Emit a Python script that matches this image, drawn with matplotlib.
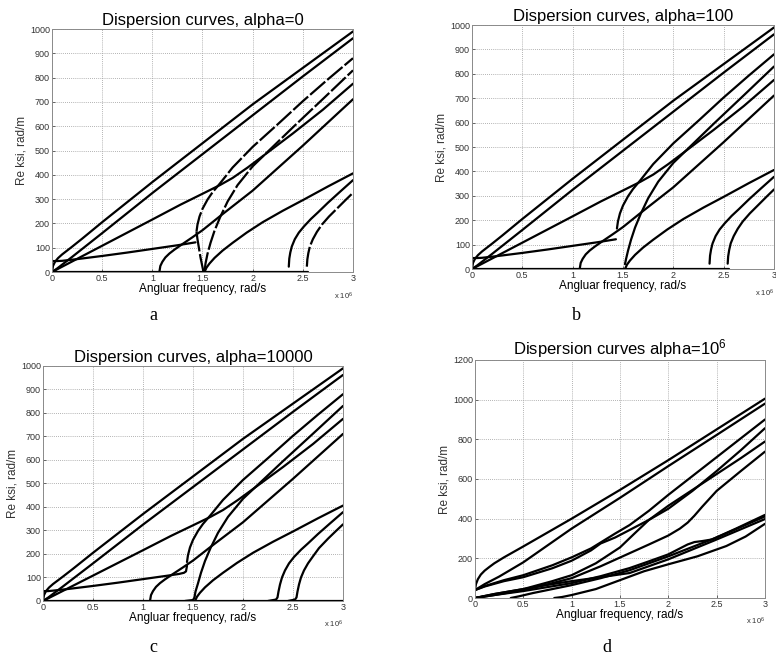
import matplotlib
matplotlib.use("Agg")
import matplotlib.pyplot as plt

plt.rcParams.update({
    "font.family": "Liberation Sans",
    "mathtext.fontset": "custom",
    "mathtext.rm": "Liberation Sans",
    "mathtext.it": "Liberation Sans",
})

# frequency in units of 1e6 rad/s, Re ksi in rad/m

# --- panels a, b, c (alpha = 0, 100, 10000) ---
top_x = [0, 0.01, 0.03, 0.06, 0.1, 0.15, 0.2, 0.3, 0.5, 1.0, 1.5, 2.0, 2.5, 3.0]
top_y = [0, 25, 42, 57, 72, 88, 104, 137, 205, 370, 530, 690, 840, 990]

second_x = [0, 0.05, 0.1, 0.2, 0.5, 1.0, 1.5, 2.0, 2.5, 3.0]
second_y = [0, 14, 30, 62, 160, 325, 485, 645, 805, 962]

origin_x = [0, 0.5, 1.0, 1.28, 1.5, 1.675, 1.8, 1.95, 2.15, 2.4, 2.7, 3.0]
origin_y = [0, 108, 216, 277, 322, 358, 387, 430, 492, 570, 668, 775]

low_x = [0, 0, 0.05, 0.1, 0.25, 0.5, 0.75, 1.0, 1.25, 1.43]
low_y = [0, 45, 45, 46, 53, 66, 80, 95, 110, 122]

cut107_x = [1.07, 1.08, 1.1, 1.13, 1.17, 1.22, 1.3, 1.4, 1.5, 1.675, 2.0, 2.5, 3.0]
cut107_y = [0, 25, 42, 60, 76, 92, 115, 143, 172, 230, 335, 520, 711]

c880_x = [1.44, 1.45, 1.47, 1.5, 1.55, 1.6, 1.675, 1.8, 2.0, 2.25, 2.5, 2.75, 3.0]
c880_y = [166, 195, 228, 260, 298, 328, 365, 430, 515, 608, 703, 793, 880]

cusp_x = [1.44, 1.45, 1.46, 1.47, 1.48, 1.49, 1.5, 1.51]
cusp_y = [166, 135, 110, 85, 60, 40, 20, 0]

c830_x = [1.52, 1.53, 1.55, 1.58, 1.62, 1.675, 1.75, 1.85, 2.0, 2.15, 2.4, 2.7, 3.0]
c830_y = [0, 35, 75, 120, 170, 225, 290, 358, 435, 495, 595, 712, 830]

c406_x = [1.52, 1.54, 1.57, 1.62, 1.7, 1.8, 1.94, 2.1, 2.3, 2.51, 2.75, 3.0]
c406_y = [0, 18, 35, 58, 88, 120, 162, 205, 252, 298, 352, 406]

c378_x = [2.36, 2.365, 2.375, 2.39, 2.42, 2.46, 2.51, 2.58, 2.65, 2.75, 2.87, 3.0]
c378_y = [22, 55, 80, 105, 135, 162, 187, 218, 245, 285, 330, 378]

c326_x = [2.54, 2.545, 2.555, 2.57, 2.6, 2.64, 2.69, 2.76, 2.85, 2.93, 3.0]
c326_y = [22, 52, 78, 105, 135, 165, 195, 228, 265, 298, 326]

zero_x = [0, 2.55]
zero_y = [0, 0]

# panel b: branches stop short of the axis
c830_b_y = [20, 40, 75, 120, 170, 225, 290, 358, 435, 495, 595, 712, 830]

# panel c: smoother joins at the cut-offs
low_c_x = [0, 0, 0.05, 0.1, 0.25, 0.5, 0.75, 1.0, 1.25, 1.36, 1.41, 1.43, 1.44]
low_c_y = [0, 42, 42, 44, 51, 64, 78, 93, 108, 115, 120, 126, 150]
c830_c_x = [1.42, 1.5, 1.515, 1.525, 1.55, 1.58, 1.62, 1.675, 1.75, 1.85, 2.0,
            2.15, 2.4, 2.7, 3.0]
c830_c_y = [0, 4, 15, 40, 75, 120, 170, 225, 290, 358, 435, 495, 595, 712, 830]
c378_c_x = [2.25, 2.33, 2.345, 2.355, 2.37, 2.39, 2.42, 2.46, 2.51, 2.58, 2.65,
            2.75, 2.87, 3.0]
c378_c_y = [0, 6, 15, 40, 70, 100, 130, 160, 187, 218, 245, 285, 330, 378]
c326_c_x = [2.45, 2.52, 2.535, 2.545, 2.56, 2.58, 2.61, 2.65, 2.7, 2.76, 2.85,
            2.93, 3.0]
c326_c_y = [0, 6, 15, 40, 70, 100, 130, 160, 190, 225, 265, 298, 326]
zero_c_x = [0, 3.0]

# --- panel d (alpha = 1e6) ---
d1_x = [0, 0.01, 0.03, 0.06, 0.1, 0.15, 0.2, 0.3, 0.5, 1.0, 1.5, 2.0, 2.5, 3.0]
d1_y = [40, 70, 95, 118, 138, 157, 175, 205, 260, 400, 545, 695, 850, 1005]
d2_x = [0, 0.1, 0.25, 0.5, 1.0, 1.5, 2.0, 2.5, 3.0]
d2_y = [40, 70, 108, 180, 350, 505, 665, 822, 980]
d3_x = [0, 0.1, 0.3, 0.5, 0.8, 1.0, 1.2, 1.3, 1.45, 1.6, 1.8, 2.0, 2.5, 3.0]
d3_y = [40, 60, 90, 115, 165, 205, 250, 280, 325, 368, 440, 520, 710, 900]
d4_x = [0, 0.1, 0.3, 0.5, 0.8, 1.0, 1.2, 1.3, 1.45, 1.6, 1.8, 2.0, 2.25, 2.5,
        2.75, 3.0]
d4_y = [40, 58, 85, 105, 150, 188, 240, 275, 305, 343, 394, 450, 540, 640,
        745, 856]
d5_x = [0, 0.2, 0.5, 0.8, 1.0, 1.25, 1.5, 1.65, 1.8, 2.0, 2.25, 2.5, 2.75, 3.0]
d5_y = [0, 20, 45, 85, 115, 175, 255, 325, 394, 465, 545, 625, 705, 789]
d6_x = [0, 0.2, 0.5, 0.8, 1.0, 1.3, 1.6, 1.8, 2.0, 2.12, 2.2, 2.27, 2.35,
        2.5, 2.75, 3.0]
d6_y = [0, 15, 40, 75, 100, 160, 226, 270, 315, 350, 380, 415, 460, 540,
        640, 738]
d7_x = [0, 0.2, 0.5, 1.0, 1.3, 1.6, 1.8, 2.0, 2.1, 2.2, 2.27, 2.35, 2.45,
        2.7, 3.0]
d7_y = [0, 15, 35, 75, 110, 151, 185, 220, 245, 270, 282, 287, 295, 350, 419]
d8_x = [0.37, 0.45, 0.6, 0.8, 1.0, 1.3, 1.6, 2.0, 2.5, 3.0]
d8_y = [0, 8, 25, 45, 65, 100, 140, 210, 305, 411]
d9_x = [0, 0.2, 0.5, 0.8, 1.0, 1.3, 1.6, 2.0, 2.5, 3.0]
d9_y = [0, 20, 45, 70, 85, 105, 126, 195, 295, 398]
d10_x = [0.82, 0.9, 1.0, 1.25, 1.5, 1.75, 2.0, 2.3, 2.6, 2.8, 3.0]
d10_y = [0, 5, 15, 45, 90, 135, 170, 210, 262, 310, 374]

x_ticks = [0, 0.5, 1, 1.5, 2, 2.5, 3]
x_tick_labels = ["0", "0.5", "1", "1.5", "2", "2.5", "3"]


def style_axes(ax, ymax, ystep, title):
    ax.set_xlim(0, 3)
    ax.set_ylim(0, ymax)
    ax.set_xticks(x_ticks)
    ax.set_xticklabels(x_tick_labels)
    ax.set_yticks(range(0, ymax + 1, ystep))
    ax.tick_params(direction="in", length=2, width=0.5, labelsize=6.5,
                   colors="#333333", pad=1.5)
    ax.grid(True, color="#9a9a9a", linestyle=(0, (1, 1.5)), linewidth=0.6)
    for spine in ax.spines.values():
        spine.set_color("#8a8a8a")
        spine.set_linewidth(0.7)
    ax.set_title(title, fontsize=12, pad=3)
    ax.set_xlabel("Angluar frequency, rad/s", fontsize=8.5, labelpad=0)
    ax.set_ylabel("Re ksi, rad/m", fontsize=8.5, labelpad=2, color="#333333")
    ax.text(1.0, -0.075, r"x 10$^6$", transform=ax.transAxes, fontsize=5.5,
            ha="right", va="top", color="#333333")


def draw(ax, x, y, dashed=False):
    style = (0, (9, 1.2)) if dashed else "-"
    ax.plot(x, y, color="black", linewidth=1.6, linestyle=style,
            solid_capstyle="round")


fig = plt.figure(figsize=(7.76, 6.61), dpi=100)

ax_a = fig.add_axes([0.0670, 0.5885, 0.3879, 0.3676])
ax_b = fig.add_axes([0.6082, 0.5930, 0.3892, 0.3691])
ax_c = fig.add_axes([0.0554, 0.0908, 0.3866, 0.3555])
ax_d = fig.add_axes([0.6121, 0.0953, 0.3737, 0.3601])

# a
for x, y in [(top_x, top_y), (second_x, second_y), (origin_x, origin_y),
             (low_x, low_y), (cut107_x, cut107_y), (c406_x, c406_y),
             (c378_x, c378_y), (zero_x, zero_y)]:
    draw(ax_a, x, y)
for x, y in [(c880_x, c880_y), (cusp_x, cusp_y), (c830_x, c830_y),
             (c326_x, c326_y)]:
    draw(ax_a, x, y, dashed=True)
style_axes(ax_a, 1000, 100, "Dispersion curves, alpha=0")

# b
for x, y in [(top_x, top_y), (second_x, second_y), (origin_x, origin_y),
             (low_x, low_y), (cut107_x, cut107_y), (c880_x, c880_y),
             (c830_x, c830_b_y), (c406_x, c406_y),
             (c378_x, c378_y), (c326_x, c326_y), (zero_x, zero_y)]:
    draw(ax_b, x, y)
style_axes(ax_b, 1000, 100, "Dispersion curves, alpha=100")

# c
for x, y in [(top_x, top_y), (second_x, second_y), (origin_x, origin_y),
             (low_c_x, low_c_y), (c880_x, c880_y), (cut107_x, cut107_y),
             (c830_c_x, c830_c_y), (c406_x, c406_y), (c378_c_x, c378_c_y),
             (c326_c_x, c326_c_y), (zero_c_x, zero_y)]:
    draw(ax_c, x, y)
style_axes(ax_c, 1000, 100, "Dispersion curves, alpha=10000")

# d
for x, y in [(d1_x, d1_y), (d2_x, d2_y), (d3_x, d3_y), (d4_x, d4_y),
             (d5_x, d5_y), (d6_x, d6_y), (d7_x, d7_y), (d8_x, d8_y),
             (d9_x, d9_y), (d10_x, d10_y)]:
    draw(ax_d, x, y)
style_axes(ax_d, 1200, 200, r"Dispersion curves alpha=10$^6$")

for label, px, py in [("a", 153, 315), ("b", 576, 315),
                      ("c", 153, 648), ("d", 607, 648)]:
    fig.text(px / 776, 1 - py / 661, label, fontsize=13,
             family="Liberation Serif", ha="center", va="center")

fig.savefig("out.png", dpi=100)
